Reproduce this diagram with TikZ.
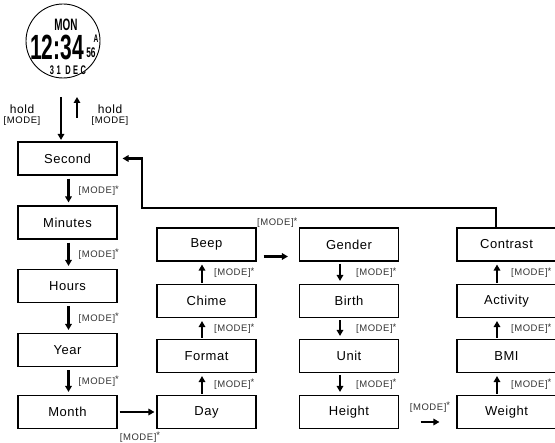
\documentclass[tikz,border=0pt]{standalone}
\usepackage{fontspec}
\setmainfont{Liberation Sans}
\newfontfamily\lcdfont[FakeStretch=0.6]{Liberation Sans}
\usetikzlibrary{arrows.meta}
\newcommand{\modekey}{[MODE]\raisebox{1.5pt}{*}}

\begin{document}
\begin{tikzpicture}[x=1pt, y=-1pt,
	box/.style={draw, line width=1.1pt, minimum width=99pt, minimum height=33pt, inner sep=0pt, font=\fontsize{13}{14}\selectfont\addfontfeature{LetterSpace=4}},
	arr/.style={line width=2.2pt, -{Triangle[length=6pt, width=6.5pt]}},
	mode/.style={inner sep=0pt, font=\fontsize{9.5}{10}\selectfont\addfontfeature{LetterSpace=6}, text=black!80},
	hold/.style={align=center, inner sep=0pt, font=\fontsize{12}{10}\selectfont\addfontfeature{LetterSpace=5}},
	lcd/.style={inner sep=0pt, font=\lcdfont\bfseries}]
			%%%%% START %%%%%
			
			\useasboundingbox (0,0) rectangle (555,443);
			
			% watch face
			\node[draw, circle, line width=0.9pt, minimum size=74pt, inner sep=0pt] (watch) at (63,41) {};
			\node[lcd] (wday) at (66,24.5) {\fontsize{16.5}{16.5}\selectfont MON};
			\node[lcd] (wtime) at (57,47) {\fontsize{35}{35}\selectfont 12:34};
			\node[lcd] (wampm) at (96,39) {\fontsize{11}{11}\selectfont A};
			\node[lcd] (wsec) at (91,53) {\fontsize{14}{14}\selectfont 56};
			\node[lcd] (wdate) at (68,70) {\fontsize{12.5}{12.5}\selectfont\addfontfeature{LetterSpace=20}31 DEC};
			
			\node[hold] (holdin) at (22,115) {hold\\{\fontsize{9.5}{11}\selectfont\addfontfeature{LetterSpace=6}[MODE]}};
			\node[hold] (holdout) at (110,115) {hold\\{\fontsize{9.5}{11}\selectfont\addfontfeature{LetterSpace=6}[MODE]}};
			
			% first column
			\node[box] (second) at (67.5,158.5) {Second};
			\node[box] (minutes) at (67.5,222.5) {Minutes};
			\node[box] (hours) at (67.5,286) {Hours};
			\node[box] (year) at (67.5,350) {Year};
			\node[box] (month) at (67.5,412) {Month};
			
			% second column
			\node[box] (day) at (206.5,412) {Day};
			\node[box] (format) at (206.5,356) {Format};
			\node[box] (chime) at (206.5,301) {Chime};
			\node[box] (beep) at (206.5,244.5) {Beep};
			
			% third column
			\node[box] (gender) at (349,244.5) {Gender};
			\node[box] (birth) at (349,301) {Birth};
			\node[box] (unit) at (349,356) {Unit};
			\node[box] (height) at (349,412) {Height};
			
			% fourth column
			\node[box] (weight) at (506.5,412) {Weight};
			\node[box] (bmi) at (506.5,356) {BMI};
			\node[box] (activity) at (506.5,301) {Activity};
			\node[box] (contrast) at (506.5,244.5) {Contrast};
			
			% hold arrows
			\coordinate (holdtop) at (61,97);
			\coordinate (holdback) at (77,118);
			\coordinate (holdtip) at (77,97);
			\draw[arr, shorten >=1.5pt] (holdtop) -- (holdtop |- second.north);
			\draw[arr] (holdback) -- (holdtip);
			
			\foreach \a/\b in {second/minutes, minutes/hours, hours/year, year/month}
				\draw[arr, shorten <=3pt, shorten >=3pt] ([xshift=1pt]\a.south) -- ([xshift=1pt]\b.north) node[midway, mode, anchor=west, xshift=9pt] {\modekey};
			
			\foreach \a/\b in {day/format, format/chime, chime/beep}
				\draw[arr, shorten <=1pt, shorten >=3pt] ([xshift=-4.5pt]\a.north) -- ([xshift=-4.5pt]\b.south) node[midway, mode, anchor=west, xshift=11pt] {\modekey};
			
			\foreach \a/\b in {gender/birth, birth/unit, unit/height}
				\draw[arr, shorten <=2pt, shorten >=3pt] ([xshift=-9pt]\a.south) -- ([xshift=-9pt]\b.north) node[midway, mode, anchor=west, xshift=15pt] {\modekey};
			
			\foreach \a/\b in {weight/bmi, bmi/activity, activity/contrast}
				\draw[arr, shorten <=1pt, shorten >=3pt] ([xshift=-9.5pt]\a.north) -- ([xshift=-9.5pt]\b.south) node[midway, mode, anchor=west, xshift=13pt] {\modekey};
			
			% links between columns
			\draw[arr, shorten <=2pt, shorten >=2pt] (month.east) -- (day.west) node[midway, mode, yshift=-25pt, xshift=3pt] {\modekey};
			\draw[arr] ([xshift=7pt, yshift=-12pt]beep.east) -- ([xshift=-11pt, yshift=-12pt]gender.west) node[midway, mode, yshift=34pt, xshift=1.5pt] {\modekey};
			\draw[arr] ([xshift=21.5pt, yshift=-10pt]height.east) -- ([xshift=-17pt, yshift=-10pt]weight.west) node[midway, mode, yshift=15pt] {\modekey};
			
			% back to the start
			\coordinate (loop) at (142,208);
			\draw[arr, shorten >=5pt] ([xshift=-10.5pt]contrast.north) |- (loop) |- (second.east);
			
			%%%%% END %%%%%
\end{tikzpicture}
\end{document}
